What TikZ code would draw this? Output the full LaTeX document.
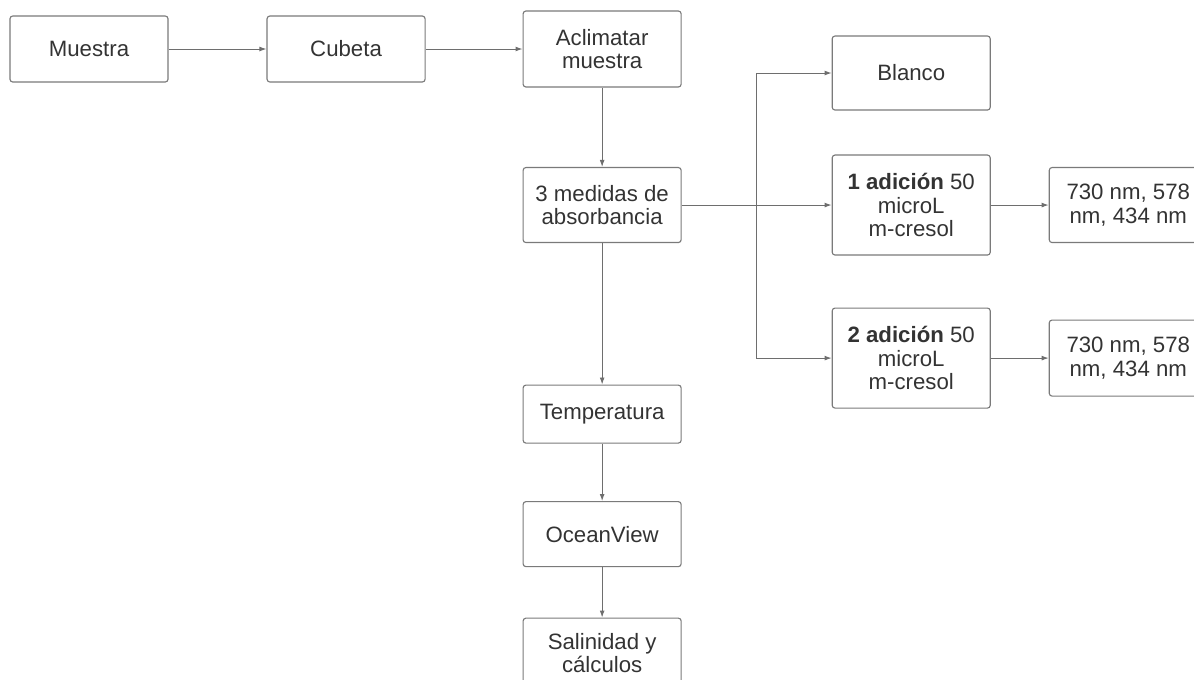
\documentclass[tikz,border=0pt]{standalone}
\usepackage{fontspec}
\setmainfont{Liberation Sans}
\usepackage{tikz}
\usetikzlibrary{positioning,arrows.meta}

\definecolor{boxline}{HTML}{7A7A7A}
\definecolor{wire}{HTML}{6E6E6E}
\definecolor{ink}{HTML}{333333}

\tikzset{
  stage/.style={draw=boxline, line width=0.8pt, rounded corners=2pt, text=ink,
    minimum width=3.95cm, align=center, font=\fontsize{15.8}{16.6}\selectfont},
  link/.style={draw=wire, line width=0.7pt, -{Latex[length=5pt,width=3.5pt]}}
}

\begin{document}
\begin{tikzpicture}[x=0.025cm, y=-0.025cm]
      \useasboundingbox (0,0) rectangle (1194,679);
      \clip (0,0) rectangle (1194,679);

      \node[stage, minimum height=1.65cm] (Muestra) at (89,49) {Muestra};
      \node[stage, minimum height=1.65cm, on grid, right=6.425cm of Muestra] (Cubeta) {Cubeta};
      \node[stage, minimum height=1.9cm, on grid, right=6.4cm of Cubeta] (Aclimatar) {Aclimatar\\muestra};
      \node[stage, minimum height=1.875cm, on grid, below=3.9cm of Aclimatar] (Medidas) {3 medidas de\\absorbancia};
      \node[stage, minimum height=1.45cm, on grid, below=5.225cm of Medidas] (Temp) {Temperatura};
      \node[stage, minimum height=1.625cm, on grid, below=3cm of Temp] (Ocean) {OceanView};
      \node[stage, minimum height=1.75cm, on grid, below=2.975cm of Ocean] (Salinidad) {Salinidad y\\cálculos};

      \node[stage, minimum height=1.85cm, on grid, above right=3.3cm and 7.725cm of Medidas] (Blanco) {Blanco};
      \node[stage, minimum height=2.5cm, on grid, right=7.725cm of Medidas] (AddOne) {\textbf{1 adición} 50\\microL\\m-cresol};
      \node[stage, minimum height=2.5cm, on grid, below=3.825cm of AddOne] (AddTwo) {\textbf{2 adición} 50\\microL\\m-cresol};
      \node[stage, minimum height=1.875cm, on grid, right=5.425cm of AddOne] (WaveOne) {730 nm, 578\\nm, 434 nm};
      \node[stage, minimum height=1.9cm, on grid, right=5.425cm of AddTwo] (WaveTwo) {730 nm, 578\\nm, 434 nm};

      \coordinate[right=1.875cm of Medidas.east] (Split);

      \draw[link] (Muestra) -- (Cubeta);
      \draw[link] (Cubeta) -- (Aclimatar);
      \draw[link] (Aclimatar) -- (Medidas);
      \draw[link] (Medidas) -- (Temp);
      \draw[link] (Temp) -- (Ocean);
      \draw[link] (Ocean) -- (Salinidad);

      \draw[link] (Medidas) -- (AddOne);
      \draw[link] (Split) |- (Blanco);
      \draw[link] (Split) |- (AddTwo);
      \draw[link] (AddOne) -- (WaveOne);
      \draw[link] (AddTwo) -- (WaveTwo);
    \end{tikzpicture}
\end{document}
